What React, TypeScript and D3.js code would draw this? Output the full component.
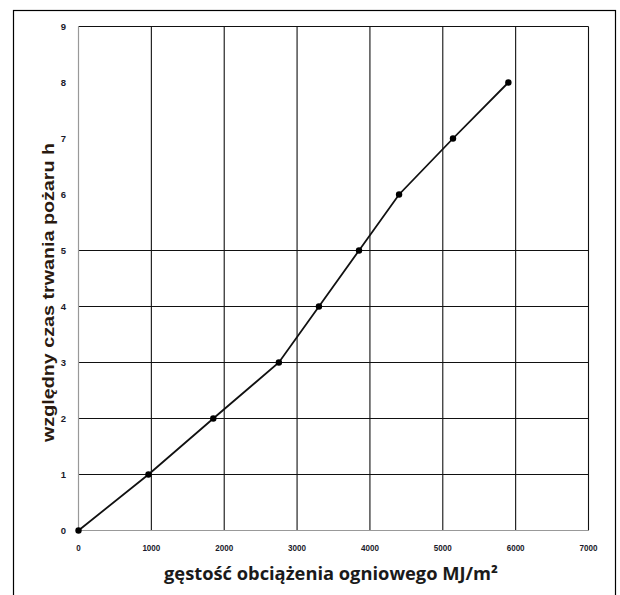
import React from "react";
import * as d3 from "d3";

const xValues = [0, 960, 1850, 2750, 3300, 3850, 4400, 5140, 5900];
const yValues = [0, 1, 2, 3, 4, 5, 6, 7, 8];
const xTicks = [0, 1000, 2000, 3000, 4000, 5000, 6000, 7000];
const yTicks = [0, 1, 2, 3, 4, 5, 6, 7, 8, 9];
const hGridValues = [1, 2, 3, 4, 5, 9];
const xTitle = "gęstość obciążenia ogniowego MJ/m²";
const yTitle = "względny czas trwania pożaru h";

export default function App() {
  const W = 620, H = 595;
  const left = 78.5, right = 588.5, top = 26.5, bottom = 530.5;
  const x = d3.scaleLinear().domain([0, 7000]).range([left, right]);
  const y = d3.scaleLinear().domain([0, 9]).range([bottom, top]);
  const pts = xValues.map((v, i) => [x(v), y(yValues[i])] as [number, number]);
  const line = d3.line()(pts) || "";
  return (
    <svg width={W} height={H} style={{ position: "absolute", left: 0, top: 0, background: "#fff" }}>
      <rect x={13.5} y={10.5} width={602} height={600} fill="none" stroke="#000" strokeWidth={1.2} />
      {xTicks.filter(t => t > 0).map(t => (
        <line key={"vx" + t} x1={x(t)} x2={x(t)} y1={top} y2={bottom} stroke="#111" strokeWidth={1.1} />
      ))}
      {hGridValues.map(t => (
        <line key={"hy" + t} x1={left} x2={right} y1={y(t)} y2={y(t)} stroke="#111" strokeWidth={1.1} />
      ))}
      <line x1={left} x2={left} y1={top} y2={bottom} stroke="#999" strokeWidth={1.2} />
      <line x1={left} x2={right} y1={bottom} y2={bottom} stroke="#999" strokeWidth={1.2} />
      <path d={line} fill="none" stroke="#111" strokeWidth={1.8} />
      {pts.map((p, i) => (
        <circle key={"p" + i} cx={p[0]} cy={p[1]} r={3.2} fill="#000" />
      ))}
      {yTicks.map(t => (
        <text key={"yt" + t} x={66} y={y(t)} dy="0.35em" textAnchor="end" fontFamily="Liberation Sans, Arial, sans-serif" fontWeight="bold" fontSize={9.5} fill="#1a1a2a">{t}</text>
      ))}
      {xTicks.map(t => (
        <text key={"xt" + t} x={x(t)} y={551} textAnchor="middle" fontFamily="Liberation Sans, Arial, sans-serif" fontWeight="bold" fontSize={9.5} fill="#1a1a2a" transform={`translate(${x(t)},0) scale(0.85,1) translate(${-x(t)},0)`}>{t}</text>
      ))}
      <text x={331} y={580} textAnchor="middle" fontFamily="Open Sans, Lato, sans-serif" fontWeight="bold" fontSize={18} fill="#1a1a1a" textLength={334} lengthAdjust="spacingAndGlyphs">{xTitle}</text>
      <text transform={`translate(54,292.5) rotate(-90)`} textAnchor="middle" fontFamily="Liberation Sans, Arial, sans-serif" fontWeight="bold" fontSize={17} fill="#2a1a10" textLength={299} lengthAdjust="spacingAndGlyphs">{yTitle}</text>
    </svg>
  );
}
